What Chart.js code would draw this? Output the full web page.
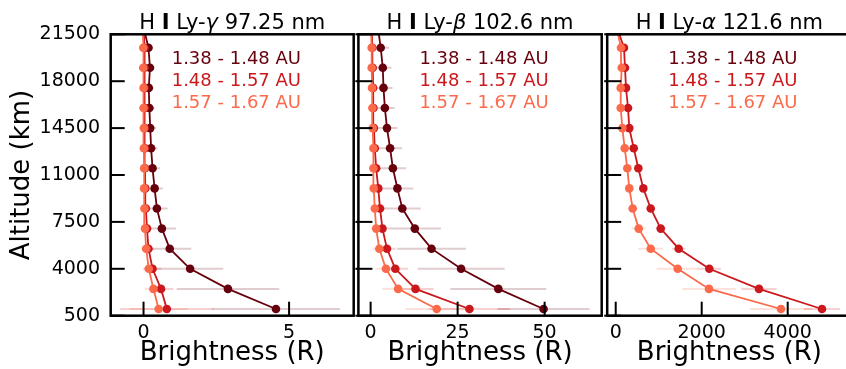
<!DOCTYPE html>
<html>
<head>
<meta charset="utf-8">
<script src="https://cdn.jsdelivr.net/npm/chart.js@4.4.1/dist/chart.umd.min.js"></script>
<style>
  html, body { margin: 0; padding: 0; background: #fff; overflow: hidden; width: 846px; height: 369px; }
  canvas { position: absolute; top: 0; }
</style>
</head>
<body>
<canvas id="lyGamma" width="358" height="369" style="left:0px"></canvas>
<canvas id="lyBeta" width="266" height="369" style="left:340px"></canvas>
<canvas id="lyAlpha" width="266" height="369" style="left:590px"></canvas>
<script>
// Altitude of each profile bin (km); the topmost bin lies just above the plotted range
const altitudes = [1000, 2500, 4000, 5500, 7000, 8500, 10000, 11500, 13000, 14500, 16000, 17500, 19000, 20500, 22000];
const altitudeTicks = [500, 4000, 7500, 11000, 14500, 18000, 21500];

// Heliocentric distance bands
const bandLabels = ['1.38 - 1.48 AU', '1.48 - 1.57 AU', '1.57 - 1.67 AU'];
const bandColors = ['#67000d', '#cb181d', '#fb6a4a'];
const bandErrorColors = ['rgba(103,0,13,0.2)', 'rgba(203,24,29,0.2)', 'rgba(251,106,74,0.2)'];

// H I Ly-gamma 97.25 nm brightness (R)
const gammaTicks = [0, 5];
const gammaBand1 = [4.55, 2.90, 1.60, 0.90, 0.63, 0.46, 0.38, 0.31, 0.26, 0.23, 0.20, 0.18, 0.22, 0.17, 0.00];
const gammaBand1Err = [2.2, 1.76, 1.14, 0.74, 0.49, 0.37, 0.28, 0.26, 0.22, 0.20, 0.18, 0.17, 0.16, 0.15, 0.15];
const gammaBand2 = [0.80, 0.60, 0.31, 0.17, 0.12, 0.08, 0.06, 0.05, 0.05, 0.04, 0.04, 0.03, 0.03, 0.03, 0.00];
const gammaBand2Err = [1.6, 0.42, 0.30, 0.20, 0.15, 0.12, 0.10, 0.09, 0.08, 0.07, 0.07, 0.06, 0.06, 0.06, 0.06];
const gammaBand3 = [0.52, 0.34, 0.18, 0.09, 0.05, 0.03, 0.02, 0.02, 0.01, 0.01, 0.00, 0.00, -0.01, -0.01, -0.03];
const gammaBand3Err = [1.0, 0.30, 0.20, 0.14, 0.10, 0.08, 0.07, 0.06, 0.05, 0.05, 0.05, 0.04, 0.04, 0.04, 0.04];

// H I Ly-beta 102.6 nm brightness (R)
const betaTicks = [0, 25, 50];
const betaBand1 = [49.7, 36.7, 26.0, 17.5, 12.7, 9.1, 7.7, 6.4, 5.6, 4.7, 4.1, 3.7, 3.5, 2.9, 2.1];
const betaBand1Err = [13.2, 13.8, 12.5, 9.9, 7.5, 5.3, 4.6, 3.8, 3.5, 3.0, 2.8, 2.6, 2.5, 2.4, 2.4];
const betaBand2 = [28.4, 12.9, 7.1, 4.7, 3.4, 2.7, 2.2, 1.6, 1.2, 0.94, 0.8, 0.7, 0.6, 0.5, 0.3];
const betaBand2Err = [11.7, 5.2, 3.6, 2.5, 1.8, 1.3, 1.0, 0.9, 0.8, 0.7, 0.7, 0.6, 0.6, 0.6, 0.6];
const betaBand3 = [19.0, 7.9, 4.4, 2.5, 1.6, 1.2, 0.9, 0.8, 0.8, 0.6, 0.5, 0.4, 0.3, 0.3, 0.1];
const betaBand3Err = [9.0, 4.5, 3.0, 2.0, 1.5, 1.1, 0.9, 0.8, 0.7, 0.6, 0.6, 0.5, 0.5, 0.5, 0.5];

// H I Ly-alpha 121.6 nm brightness (R); no profile for the nearest band
const alphaTicks = [0, 2000, 4000];
const alphaBand2 = [4798, 3333, 2177, 1465, 1047, 814, 642, 526, 419, 316, 286, 240, 216, 193, 30];
const alphaBand2Err = [420, 410, 270, 155, 110, 90, 70, 60, 50, 45, 40, 38, 36, 35, 35];
const alphaBand3 = [3844, 2170, 1442, 814, 535, 395, 316, 270, 209, 154, 116, 116, 140, 123, 20];
const alphaBand3Err = [720, 620, 490, 290, 155, 115, 90, 70, 60, 50, 45, 42, 40, 38, 38];

const FONT = 'DejaVu Sans';

const panels = [
  {
    id: 'lyGamma', line: 'γ', wave: '97.25 nm',
    xMin: -1.128, xMax: 7.22, xTicks: gammaTicks,
    yAxisWidth: 110.7, padRight: 3, showAltitude: true,
    bands: [[gammaBand1, gammaBand1Err], [gammaBand2, gammaBand2Err], [gammaBand3, gammaBand3Err]]
  },
  {
    id: 'lyBeta', line: 'β', wave: '102.6 nm',
    xMin: -3.51, xMax: 66.4, xTicks: betaTicks,
    yAxisWidth: 18.4, padRight: 2.8, showAltitude: false,
    bands: [[betaBand1, betaBand1Err], [betaBand2, betaBand2Err], [betaBand3, betaBand3Err]]
  },
  {
    id: 'lyAlpha', line: 'α', wave: '121.6 nm',
    xMin: -198, xMax: 5484, xTicks: alphaTicks,
    yAxisWidth: 17.2, padRight: 4.5, showAltitude: false,
    bands: [null, [alphaBand2, alphaBand2Err], [alphaBand3, alphaBand3Err]]
  }
];

// Horizontal error bars, frame, inward ticks, panel title and band labels
function makeDecor(panel) {
  return {
    id: 'decor_' + panel.id,
    beforeDatasetsDraw(chart) {
      const { ctx, chartArea: a, scales: { x, y } } = chart;
      ctx.save();
      ctx.beginPath();
      ctx.rect(a.left, a.top, a.right - a.left, a.bottom - a.top);
      ctx.clip();
      ctx.lineWidth = 2;
      chart.data.datasets.forEach(ds => {
        ctx.strokeStyle = ds.errorColor;
        ds.data.forEach((p, i) => {
          const e = ds.errors[i];
          const py = y.getPixelForValue(p.y);
          ctx.beginPath();
          ctx.moveTo(x.getPixelForValue(p.x - e), py);
          ctx.lineTo(x.getPixelForValue(p.x + e), py);
          ctx.stroke();
        });
      });
      ctx.restore();
    },
    afterDraw(chart) {
      const { ctx, chartArea: a, scales: { x, y } } = chart;
      ctx.save();
      // inward tick marks (neighbouring panels also poke slightly outward)
      ctx.strokeStyle = '#000';
      ctx.lineWidth = 2;
      const out = panel.showAltitude ? 0 : 3;
      altitudeTicks.forEach(v => {
        const py = y.getPixelForValue(v);
        ctx.beginPath(); ctx.moveTo(a.left - out, py); ctx.lineTo(a.left + 14, py); ctx.stroke();
      });
      panel.xTicks.forEach(v => {
        const px = x.getPixelForValue(v);
        ctx.beginPath(); ctx.moveTo(px, a.bottom); ctx.lineTo(px, a.bottom - 14); ctx.stroke();
      });
      // frame
      ctx.lineWidth = 2.5;
      ctx.strokeRect(a.left, a.top, a.right - a.left, a.bottom - a.top);

      // title: H I Ly-<greek> <wavelength>
      const parts = [
        { t: 'H ', f: '21px ' + FONT },
        { t: 'I', f: 'bold 21px ' + FONT },
        { t: ' Ly-', f: '21px ' + FONT },
        { t: panel.line, f: 'italic 21px ' + FONT },
        { t: ' ' + panel.wave, f: '21px ' + FONT }
      ];
      let total = 0;
      parts.forEach(p => { ctx.font = p.f; p.w = ctx.measureText(p.t).width; total += p.w; });
      let tx = (a.left + a.right) / 2 - total / 2;
      ctx.fillStyle = '#000';
      ctx.textBaseline = 'alphabetic';
      ctx.textAlign = 'left';
      parts.forEach(p => { ctx.font = p.f; ctx.fillText(p.t, tx, 29.3); tx += p.w; });

      // band labels
      ctx.font = '18px ' + FONT;
      bandLabels.forEach((lab, i) => {
        ctx.fillStyle = bandColors[i];
        ctx.fillText(lab, a.left + 61, 63.5 + i * 22.3);
      });
      ctx.restore();
    }
  };
}

panels.forEach(panel => {
  const datasets = [];
  panel.bands.forEach((band, i) => {
    if (!band) return;
    const [vals, errs] = band;
    datasets.push({
      label: bandLabels[i],
      data: altitudes.map((alt, k) => ({ x: vals[k], y: alt })),
      errors: errs,
      errorColor: bandErrorColors[i],
      showLine: true,
      borderColor: bandColors[i],
      backgroundColor: bandColors[i],
      borderWidth: 1.8,
      pointRadius: 4.3,
      pointHoverRadius: 4.3,
      pointBorderWidth: 0,
      pointBackgroundColor: bandColors[i],
      clip: 0,
      order: 2 - i
    });
  });

  new Chart(document.getElementById(panel.id), {
    type: 'scatter',
    data: { datasets },
    options: {
      responsive: false,
      animation: false,
      events: [],
      devicePixelRatio: 1,
      layout: { padding: { top: 34.3, right: panel.padRight, left: 0, bottom: 0 } },
      plugins: { legend: { display: false }, tooltip: { enabled: false }, title: { display: false } },
      scales: {
        x: {
          type: 'linear', position: 'bottom',
          min: panel.xMin, max: panel.xMax,
          afterBuildTicks: s => { s.ticks = panel.xTicks.map(v => ({ value: v })); },
          afterFit: s => { s.height = 53.3; },
          grid: { display: false, drawTicks: false },
          border: { display: false },
          ticks: {
            font: { family: FONT, size: 19 }, color: '#000', padding: 5.5,
            maxRotation: 0, autoSkip: false, callback: v => String(v)
          },
          title: {
            display: true, text: 'Brightness (R)', color: '#000',
            font: { family: FONT, size: 26 }, padding: { top: 0, bottom: 0 }
          }
        },
        y: {
          type: 'linear', position: 'left',
          min: 500, max: 21500,
          afterBuildTicks: s => { s.ticks = altitudeTicks.map(v => ({ value: v })); },
          afterFit: s => { s.width = panel.yAxisWidth; },
          grid: { display: false, drawTicks: false },
          border: { display: false },
          ticks: {
            display: panel.showAltitude,
            font: { family: FONT, size: 19 }, color: '#000', padding: 10.7,
            autoSkip: false, callback: v => String(v)
          },
          title: {
            display: panel.showAltitude, text: 'Altitude (km)', color: '#000',
            font: { family: FONT, size: 26 }, padding: { top: 6.9, bottom: 0 }
          }
        }
      }
    },
    plugins: [makeDecor(panel)]
  });
});
</script>
</body>
</html>
